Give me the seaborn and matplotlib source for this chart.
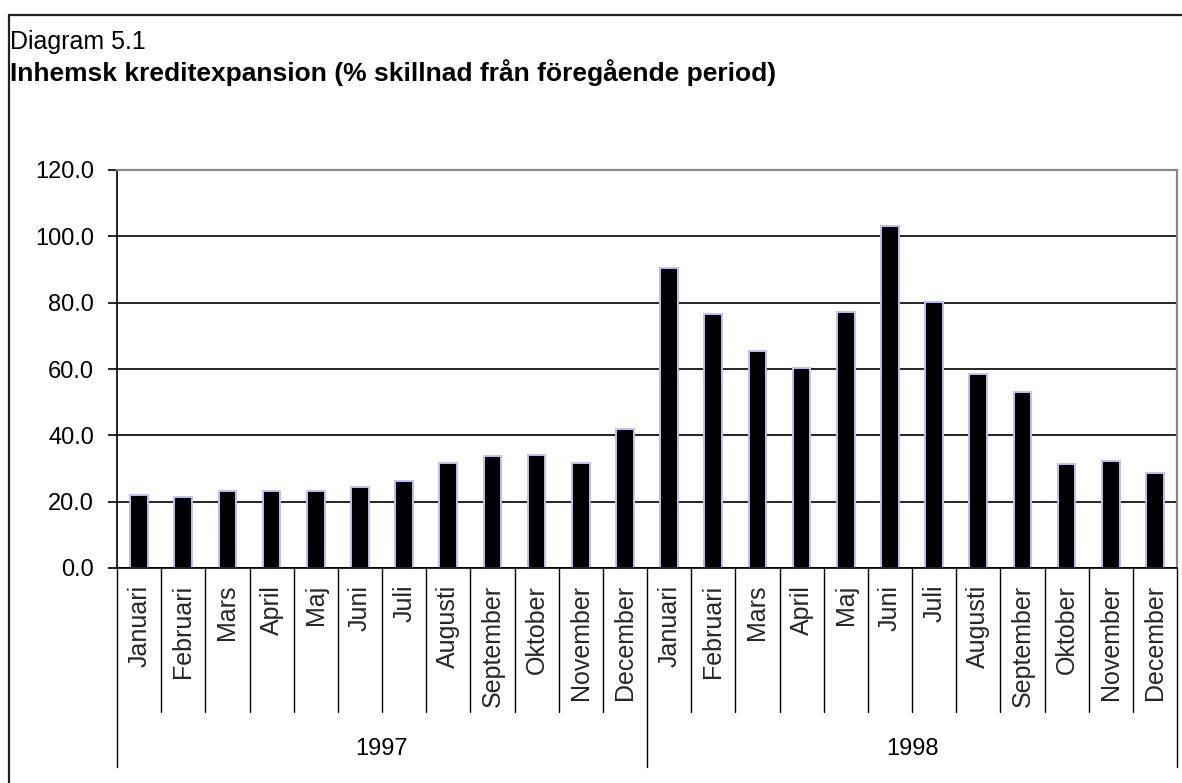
import matplotlib
matplotlib.use("Agg")
import matplotlib.pyplot as plt
import matplotlib.transforms as mtransforms
from matplotlib.lines import Line2D
from matplotlib.ticker import FormatStrFormatter
import pandas as pd
import seaborn as sns

# Monthly domestic credit expansion, % change from previous period
months = ["Januari", "Februari", "Mars", "April", "Maj", "Juni", "Juli",
          "Augusti", "September", "Oktober", "November", "December"]
years = ["1997", "1998"]
values_1997 = [22.0, 21.5, 23.3, 23.3, 23.3, 24.5, 26.3, 31.7, 33.7, 34.1, 31.7, 41.9]
values_1998 = [90.4, 76.7, 65.3, 60.3, 77.2, 103.1, 80.1, 58.6, 53.2, 31.5, 32.2, 28.7]
y_ticks = [0, 20, 40, 60, 80, 100, 120]

df = pd.DataFrame({
    "period": [f"{y}-{m}" for y in years for m in months],
    "month": months * len(years),
    "year": [y for y in years for _ in months],
    "value": values_1997 + values_1998,
})

sns.set_theme(style="white")
plt.rcParams["font.family"] = ["Liberation Sans", "DejaVu Sans"]

W, H = 1182, 783
fig = plt.figure(figsize=(W / 100, H / 100), dpi=100)
fig.patch.set_facecolor("white")

left, right, top, bottom = 117, 1177, 170, 568
ax = fig.add_axes([left / W, 1 - bottom / H, (right - left) / W, (bottom - top) / H])

sns.barplot(data=df, x="period", y="value", color="black", width=0.4,
            edgecolor="#c0c0f4", linewidth=1.4, saturation=1, ax=ax)

ax.set_ylim(0, 120)
ax.set_xlim(-0.5, len(df) - 0.5)
ax.set_yticks(y_ticks)
ax.yaxis.set_major_formatter(FormatStrFormatter("%.1f"))
ax.grid(axis="y", color="black", linewidth=1.2)
ax.set_axisbelow(True)
ax.set_xlabel("")
ax.set_ylabel("")

for side in ["left", "bottom"]:
    ax.spines[side].set_color("black")
    ax.spines[side].set_linewidth(1.2)
for side in ["top", "right"]:
    ax.spines[side].set_color("#888888")
    ax.spines[side].set_linewidth(1.6)

ax.tick_params(axis="y", which="major", left=True, length=6.5, width=1.2,
               color="black", labelsize=17, pad=10, labelcolor="black")
ax.tick_params(axis="x", length=0, pad=12)
ax.set_xticks(range(len(df)))
ax.set_xticklabels(df["month"], rotation=90, fontsize=18, va="top", ha="center")

# Category separators below the axis
trans = mtransforms.blended_transform_factory(ax.transData, ax.transAxes)
month_depth = -(712 - bottom) / (bottom - top)
year_depth = -(767 - bottom) / (bottom - top)
for k in range(len(df) + 1):
    depth = year_depth if k % len(months) == 0 else month_depth
    ax.add_line(Line2D([k - 0.5, k - 0.5], [0, depth], transform=trans,
                       color="black", linewidth=1.0, clip_on=False))

year_y = -(749 - bottom) / (bottom - top)
for i, y in enumerate(years):
    ax.text(i * len(months) + (len(months) - 1) / 2, year_y, y, transform=trans,
            ha="center", va="center", fontsize=17, color="black")

# Titles
fig.text(10 / W, 1 - 42 / H, "Diagram 5.1", ha="left", va="center",
         fontsize=18, color="black")
fig.text(10 / W, 1 - 73 / H,
         "Inhemsk kreditexpansion (% skillnad från föregående period)",
         ha="left", va="center", fontsize=19, fontweight="bold", color="black")

# Outer frame
fig.add_artist(Line2D([9 / W, 1], [1 - 15 / H, 1 - 15 / H], transform=fig.transFigure,
                      color="#222222", linewidth=1.6))
fig.add_artist(Line2D([9 / W, 9 / W], [0, 1 - 15 / H], transform=fig.transFigure,
                      color="#222222", linewidth=1.6))

fig.savefig("out.png", dpi=100, facecolor="white")
